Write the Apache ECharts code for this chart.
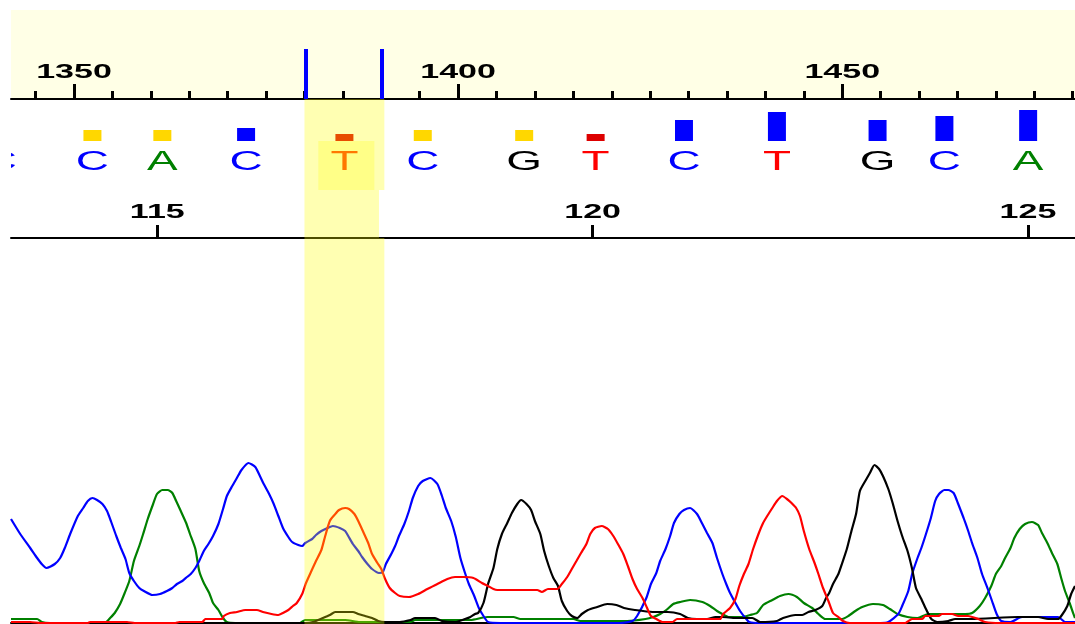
<!DOCTYPE html>
<html>
<head>
<meta charset="utf-8">
<script src="https://cdn.jsdelivr.net/npm/echarts@6.0.0/dist/echarts.min.js"></script>
<style>
  html, body { margin: 0; padding: 0; background: #fff; }
  #chart { width: 1075px; height: 624px; }
</style>
</head>
<body>
<div id="chart"></div>
<script>
// scan ruler ticks / base number ticks
const minorTicks = [1345, 1350, 1355, 1360, 1365, 1370, 1375, 1380, 1385, 1390, 1395, 1400, 1405, 1410,
  1415, 1420, 1425, 1430, 1435, 1440, 1445, 1450, 1455, 1460, 1465, 1470, 1475, 1480];
const majorTicks = [1350, 1400, 1450];
const baseTicks = [115, 120, 125];
const markers = [1380.2, 1390.0];

// base calls (scan position, letter, quality)
const baseCalls = ['C', 'C', 'A', 'C', 'T', 'C', 'G', 'T', 'C', 'T', 'G', 'C', 'A'];
const basePos = [1340.4, 1352.4, 1361.5, 1372.4, 1385.2, 1395.4, 1408.6, 1417.9, 1429.4, 1441.5, 1454.6, 1463.3, 1474.2];
const quality = [11, 11, 11, 13, 7, 11, 11, 7, 21, 29, 21, 25, 31];

// selected region
const highlight = [1380.0, 1390.4];
const highlightBox = [1381.8, 1389.1];

// traces [scan, signal]
const traceC = [[1341.8,104],[1343.0,89],[1344.3,75],[1345.2,65],[1345.8,59],[1346.4,55],[1347.5,59],[1348.2,65],[1348.8,75],[1349.5,89],
  [1350.5,107],[1351.2,115],[1351.8,122],[1352.4,125],[1353.0,123],[1353.7,119],[1354.3,112],[1354.8,102],[1355.5,87],[1356.1,75],
  [1356.7,64],[1357.2,50],[1357.8,42],[1358.5,35],[1359.1,32],[1360.2,28],[1361.2,29],[1362.1,32],[1362.8,35],[1363.4,39],
  [1364.1,42],[1364.7,46],[1365.2,49],[1365.8,55],[1366.3,62],[1366.9,72],[1367.5,79],[1368.1,87],[1368.8,99],[1369.4,114],
  [1369.9,127],[1370.6,137],[1371.2,145],[1371.8,153],[1372.7,160],[1373.6,156],[1374.2,147],[1374.7,139],[1375.4,129],[1376.0,119],
  [1376.6,107],[1377.2,95],[1377.9,86],[1378.4,81],[1379.2,78],[1379.7,77],[1380.1,80],[1381.0,84],[1381.5,88],[1382.2,92],
  [1383.0,95],[1383.7,97],[1384.6,95],[1385.3,92],[1385.7,87],[1386.3,79],[1387.0,72],[1387.5,66],[1388.2,59],[1388.8,54],
  [1389.7,50],[1390.2,51],[1390.6,59],[1391.3,69],[1391.8,77],[1392.3,87],[1393.0,99],[1393.6,112],[1394.1,125],[1394.8,137],
  [1395.4,142],[1396.4,145],[1397.3,139],[1397.9,127],[1398.4,115],[1399.1,102],[1399.7,86],[1400.3,65],[1400.9,50],[1401.4,39],
  [1402.1,27],[1402.7,15],[1403.3,7],[1403.9,1],[1405.5,0],[1421.1,0],[1422.7,2],[1423.3,7],[1424.5,25],[1425.1,39],
  [1425.8,50],[1426.3,62],[1427.0,74],[1427.6,87],[1428.1,100],[1428.8,109],[1429.4,113],[1430.2,115],[1431.1,109],[1431.8,99],
  [1432.4,90],[1433.1,80],[1433.7,65],[1434.4,49],[1434.9,39],[1435.4,30],[1436.1,20],[1436.7,12],[1437.4,5],[1437.9,1],
  [1439.3,0],[1455.0,0],[1456.0,1],[1457.3,9],[1457.8,17],[1458.6,32],[1459.1,49],[1459.8,65],[1460.3,75],[1460.9,89],
  [1461.5,104],[1462.1,122],[1462.6,129],[1463.3,133],[1463.8,133],[1464.5,130],[1465.1,119],[1465.8,105],[1466.4,92],[1466.9,80],
  [1467.6,65],[1468.2,49],[1468.9,35],[1469.5,22],[1470.1,9],[1470.7,2],[1471.9,1],[1473.4,6],[1478.1,6],[1479.0,1],[1480.3,1]];

const traceA = [[1341.8,4],[1345.2,4],[1345.8,1],[1346.9,0],[1354.0,0],[1354.7,5],[1355.3,10],[1356.0,19],[1356.6,30],[1357.2,42],
  [1357.8,62],[1358.5,77],[1359.0,89],[1359.6,104],[1360.3,119],[1360.8,129],[1361.5,133],[1362.2,133],[1362.8,130],[1363.3,122],
  [1363.9,112],[1364.6,100],[1365.1,89],[1365.8,74],[1366.3,52],[1366.9,40],[1367.6,30],[1368.1,20],[1368.8,13],[1369.4,5],
  [1369.9,1],[1371.0,0],[1379.4,0],[1380.1,3],[1385.3,3],[1387.2,1],[1393.8,1],[1394.4,3],[1400.0,3],[1401.6,3],
  [1403.8,6],[1407.2,6],[1408.1,4],[1415.0,4],[1415.9,2],[1422.0,2],[1424.4,4],[1425.4,6],[1426.3,9],[1427.1,13],
  [1428.0,19],[1428.9,21],[1430.2,23],[1431.8,21],[1432.8,17],[1433.7,12],[1434.4,9],[1435.2,6],[1437.0,6],[1438.0,8],
  [1438.9,10],[1439.7,18],[1440.9,23],[1441.9,27],[1443.0,29],[1444.1,26],[1445.0,20],[1446.1,15],[1446.9,9],[1447.8,4],
  [1450.0,4],[1450.8,7],[1451.7,12],[1452.6,16],[1454.0,19],[1455.3,18],[1456.2,14],[1457.2,9],[1458.5,6],[1459.8,5],
  [1461.2,9],[1463.0,9],[1466.0,9],[1466.9,10],[1467.9,17],[1468.6,25],[1469.4,37],[1470.0,49],[1470.7,57],[1471.2,65],
  [1471.9,75],[1472.4,85],[1473.1,94],[1473.8,99],[1474.7,101],[1475.5,98],[1476.0,90],[1476.7,80],[1477.3,70],[1478.0,59],
  [1478.5,45],[1479.0,32],[1479.6,20],[1480.1,9],[1480.3,5]];

const traceT = [[1341.8,1],[1344.3,1],[1345.6,0],[1351.8,0],[1352.1,1],[1356.9,1],[1357.9,0],[1363.2,0],[1363.7,1],[1366.7,1],
  [1367.1,4],[1369.3,4],[1369.5,7],[1370.3,10],[1371.2,11],[1372.3,13],[1373.8,13],[1374.6,11],[1375.7,9],[1376.6,8],
  [1377.2,10],[1377.9,13],[1378.5,17],[1379.0,20],[1379.7,29],[1380.2,40],[1380.9,52],[1381.5,62],[1382.2,73],[1382.7,87],
  [1383.3,102],[1383.9,108],[1384.5,113],[1385.3,115],[1385.8,114],[1386.5,109],[1387.0,102],[1387.6,92],[1388.3,80],[1388.8,69],
  [1389.5,60],[1390.0,54],[1390.5,44],[1391.1,35],[1391.8,30],[1392.4,27],[1393.6,26],[1394.8,29],[1396.0,34],[1397.3,39],
  [1398.6,44],[1399.6,46],[1400.7,46],[1402.0,45],[1403.1,40],[1403.9,37],[1404.6,34],[1405.1,33],[1410.3,33],[1410.9,31],
  [1411.7,34],[1412.9,34],[1413.5,39],[1414.2,46],[1414.8,54],[1415.4,62],[1416.0,70],[1416.7,79],[1417.2,89],[1417.8,95],
  [1418.7,97],[1419.5,94],[1420.2,87],[1420.8,79],[1421.5,69],[1422.1,57],[1422.7,44],[1423.3,34],[1424.0,25],[1424.6,15],
  [1425.1,7],[1425.8,4],[1426.6,1],[1427.9,1],[1428.5,4],[1434.1,4],[1434.5,9],[1435.4,15],[1436.1,24],[1436.6,37],
  [1437.2,49],[1437.8,59],[1438.4,74],[1439.1,89],[1439.7,100],[1440.4,109],[1440.9,115],[1441.5,122],[1442.2,127],[1442.8,124],
  [1443.4,120],[1444.0,115],[1444.5,107],[1445.0,92],[1445.7,74],[1446.4,60],[1446.9,49],[1447.5,35],[1448.2,22],[1448.8,10],
  [1449.5,6],[1450.1,2],[1451.0,0],[1458.2,0],[1459.1,4],[1460.4,4],[1460.8,7],[1462.5,7],[1463.0,9],[1464.3,9],
  [1465.1,7],[1466.4,7],[1467.7,4],[1468.6,1],[1470.6,0],[1480.3,0]];

const traceG = [[1341.8,0],[1380.1,0],[1381.1,1],[1382.4,5],[1383.3,8],[1384.0,11],[1386.3,11],[1387.0,9],[1387.9,7],[1388.8,5],
  [1389.6,2],[1390.5,1],[1392.4,1],[1393.8,3],[1394.4,5],[1397.0,5],[1397.9,2],[1399.6,1],[1400.9,4],[1401.6,6],
  [1402.2,9],[1402.6,10],[1403.3,20],[1403.9,39],[1404.6,55],[1405.1,74],[1405.7,89],[1406.4,100],[1407.0,110],[1407.7,119],
  [1408.2,123],[1408.9,119],[1409.5,113],[1410.0,102],[1410.7,89],[1411.2,72],[1411.8,57],[1412.4,45],[1413.0,37],[1413.5,22],
  [1414.2,12],[1414.8,7],[1415.5,5],[1416.1,9],[1416.9,13],[1418.1,16],[1419.4,19],[1420.6,18],[1421.6,15],[1423.0,13],
  [1425.3,11],[1427.3,11],[1428.9,9],[1429.9,5],[1431.1,4],[1432.4,4],[1433.5,6],[1434.4,6],[1436.1,5],[1438.3,5],
  [1439.3,1],[1441.5,2],[1442.3,5],[1443.9,8],[1444.8,8],[1445.6,11],[1446.5,13],[1447.4,17],[1447.9,25],[1448.3,30],
  [1448.8,39],[1449.5,49],[1450.0,60],[1450.6,74],[1451.2,92],[1451.8,109],[1452.3,132],[1453.0,142],[1453.6,150],[1454.2,158],
  [1454.8,154],[1455.3,147],[1456.0,134],[1456.6,119],[1457.2,102],[1457.8,87],[1458.5,72],[1459.1,54],[1459.6,35],[1460.3,24],
  [1460.9,14],[1461.6,4],[1462.4,1],[1463.8,2],[1464.7,4],[1466.7,4],[1472.9,6],[1475.5,6],[1476.8,4],[1478.1,4],
  [1478.6,8],[1479.3,17],[1479.8,29],[1480.3,37]];

const baseColors = { A: '#008000', C: '#0000FF', G: '#000000', T: '#FF0000' };
const qualityColor = (q) => (q < 10 ? '#DD0000' : (q < 12 ? '#FFD700' : '#0000FF'));

const scanMin = 1341.8;
const scanMax = 1480.3;
const baseMin = 113.32;
const baseMax = 125.54;

const chart = echarts.init(document.getElementById('chart'));

const scanAxis = (grid, extra) => Object.assign({
  type: 'value', gridIndex: grid, min: scanMin, max: scanMax, position: 'bottom',
  show: false, splitLine: { show: false },
}, extra || {});

const blackLine = { color: '#000', width: 2 };
const tickStyle = { color: '#000', width: 3 };
const numberFont = 'bold 20px "Liberation Sans"';

// clip everything a custom series draws to its grid
const clipped = (cs, children) => ({
  type: 'group',
  clipPath: { type: 'rect', shape: { x: cs.x, y: cs.y, width: cs.width, height: cs.height } },
  children,
});

const labelItem = (fromBottom) => (params, api) => {
  const pt = api.coord([api.value(0), 0]);
  const cs = params.coordSys;
  return {
    type: 'text',
    x: pt[0],
    y: cs.y + cs.height - fromBottom,
    scaleX: 1.7,
    style: {
      text: String(api.value(0)), fill: '#000', font: numberFont,
      align: 'center', verticalAlign: 'middle', textAlign: 'center', textVerticalAlign: 'middle',
    },
  };
};

const traceSeries = (data, color) => ({
  type: 'line', xAxisIndex: 5, yAxisIndex: 3, data,
  symbol: 'none', smooth: 0.2, z: 3,
  lineStyle: { color, width: 2.2 },
});

chart.setOption({
  animation: false,
  backgroundColor: '#fff',
  grid: [
    { left: 11, right: 0, top: 10, height: 89, show: true, backgroundColor: '#FFFFE6', borderWidth: 0 },
    { left: 11, right: 0, top: 99, height: 139 },
    { left: 11, right: 0, top: 98, height: 43 },
    { left: 11, right: 0, top: 250, height: 373 },
    { left: 11, right: 0, top: 99, height: 525 },
  ],
  xAxis: [
    scanAxis(0, {
      show: true, axisLine: { lineStyle: blackLine },
      axisTick: { inside: true, length: 8, customValues: minorTicks, lineStyle: tickStyle },
      axisLabel: { show: false },
    }),
    scanAxis(0, {
      show: true, axisLine: { show: false },
      axisTick: { inside: true, length: 15, customValues: majorTicks, lineStyle: tickStyle },
      axisLabel: { show: false },
    }),
    {
      type: 'value', gridIndex: 1, min: baseMin, max: baseMax, position: 'bottom',
      axisLine: { lineStyle: blackLine },
      axisTick: { inside: true, length: 13, customValues: baseTicks, lineStyle: tickStyle },
      axisLabel: { show: false }, splitLine: { show: false },
    },
    scanAxis(1),
    scanAxis(2),
    scanAxis(3, {
      show: true, axisLine: { lineStyle: blackLine },
      axisTick: { show: false }, axisLabel: { show: false },
    }),
    scanAxis(4),
  ],
  yAxis: [
    { type: 'value', gridIndex: 0, min: 0, max: 89, show: false, splitLine: { show: false } },
    { type: 'value', gridIndex: 1, min: 0, max: 139, show: false, splitLine: { show: false } },
    { type: 'value', gridIndex: 2, min: 0, max: 43, show: false, splitLine: { show: false } },
    { type: 'value', gridIndex: 3, min: 0, max: 373, show: false, splitLine: { show: false } },
    { type: 'value', gridIndex: 4, min: 0, max: 525, inverse: true, show: false, splitLine: { show: false } },
  ],
  series: [
    // ruler numbers
    { type: 'custom', xAxisIndex: 1, yAxisIndex: 0, data: majorTicks.map(v => [v, 0]), renderItem: labelItem(27) },
    // selection markers on ruler
    {
      type: 'line', xAxisIndex: 0, yAxisIndex: 0, data: [],
      markLine: {
        silent: true, symbol: ['none', 'none'], label: { show: false }, z: 6,
        lineStyle: { color: '#0000FF', width: 4, type: 'solid' },
        data: markers.map(m => [{ coord: [m, 0] }, { coord: [m, 50] }]),
      },
    },
    // quality bars
    {
      type: 'custom', xAxisIndex: 4, yAxisIndex: 2,
      data: basePos.map((s, i) => [s, quality[i]]),
      renderItem: (params, api) => {
        const q = api.value(1);
        const top = api.coord([api.value(0), q]);
        const size = api.size([0, q]);
        return clipped(params.coordSys, [{
          type: 'rect',
          shape: { x: top[0] - 9, y: top[1], width: 18, height: size[1] },
          style: { fill: qualityColor(q) },
        }]);
      },
    },
    // base letters
    {
      type: 'custom', xAxisIndex: 3, yAxisIndex: 1,
      data: basePos.map((s, i) => [s, i]),
      renderItem: (params, api) => {
        const b = baseCalls[api.value(1)];
        const pt = api.coord([api.value(0), 0]);
        return clipped(params.coordSys, [{
          type: 'text', x: pt[0], y: params.coordSys.y + 64, scaleX: 1.7,
          style: {
            text: b, fill: baseColors[b], font: '27px "Liberation Sans"',
            align: 'center', verticalAlign: 'middle', textAlign: 'center', textVerticalAlign: 'middle',
          },
        }]);
      },
    },
    // base numbers
    { type: 'custom', xAxisIndex: 2, yAxisIndex: 1, data: baseTicks.map(v => [v, 0]), renderItem: labelItem(25.5) },
    // traces
    traceSeries(traceA, '#008000'),
    traceSeries(traceC, '#0000FF'),
    traceSeries(traceG, '#000000'),
    traceSeries(traceT, '#FF0000'),
    // highlighted column, drawn over everything
    {
      type: 'line', xAxisIndex: 6, yAxisIndex: 4, data: [], z: 10,
      markArea: {
        silent: true, z: 20, itemStyle: { color: 'rgba(255,255,0,0.3)' },
        data: [
          [{ coord: [highlight[0], 0] }, { coord: [highlight[1], 91] }],
          [{ coord: [highlight[0], 91] }, { coord: [1389.7, 139] }],
          [{ coord: [highlight[0], 139] }, { coord: [highlight[1], 525] }],
        ],
      },
    },
    {
      type: 'line', xAxisIndex: 6, yAxisIndex: 4, data: [], z: 11,
      markArea: {
        silent: true, z: 21, itemStyle: { color: 'rgba(255,255,0,0.24)' },
        data: [[{ coord: [highlightBox[0], 42] }, { coord: [highlightBox[1], 91] }]],
      },
    },
  ],
});
</script>
</body>
</html>
